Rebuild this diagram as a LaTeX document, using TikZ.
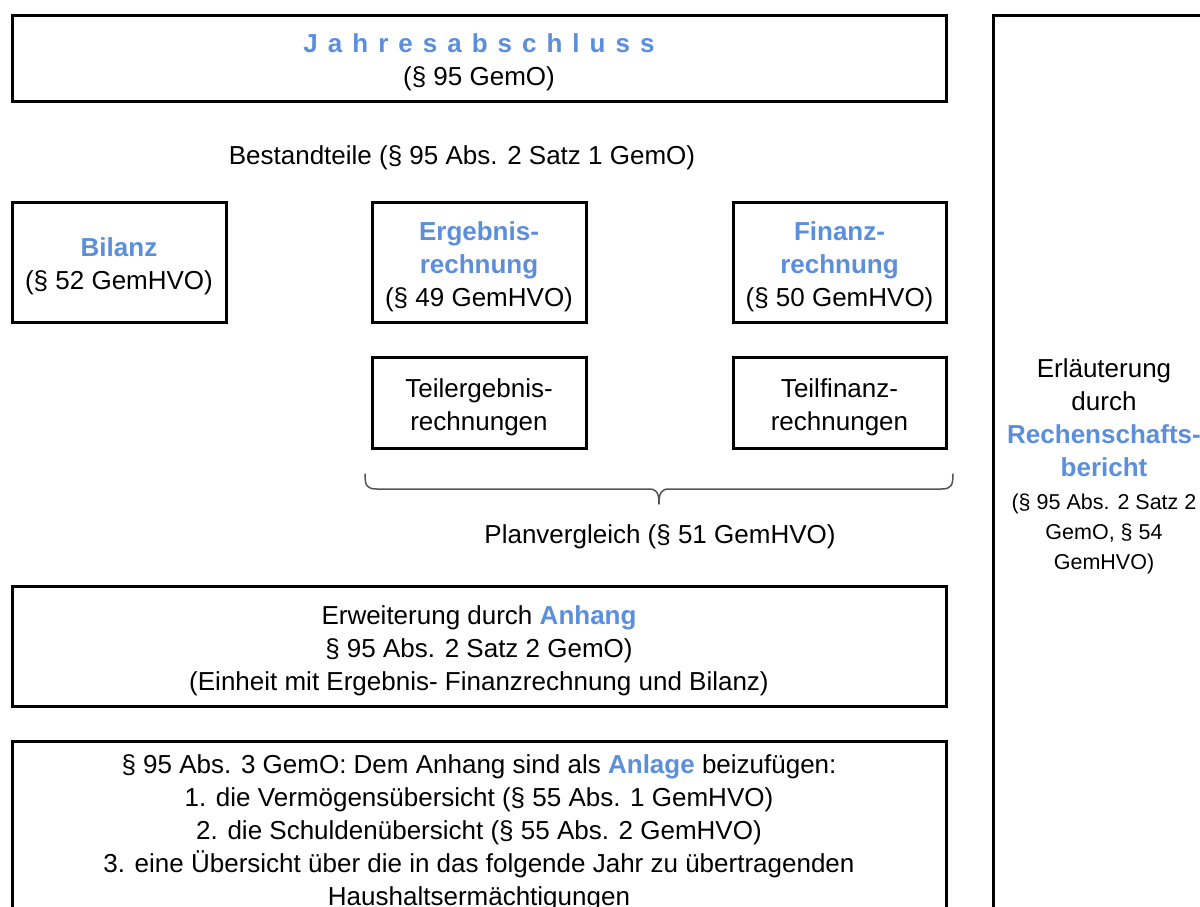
\documentclass[tikz,border=0pt]{standalone}
\usepackage{fontspec}
\setmainfont{Liberation Sans}
\definecolor{hblue}{RGB}{91,143,220}
\definecolor{bracegray}{RGB}{85,85,85}
\newcommand{\hb}[1]{\textcolor{hblue}{\textbf{#1}}}
\newcommand{\smf}{\fontsize{21.5}{30.5}\selectfont}
\newcommand{\tst}{\rule{0pt}{28pt}}
\begin{document}
\begin{tikzpicture}[x=1pt,y=-1pt,
  box/.style={draw, line width=3pt, inner sep=0pt, align=center,
    font=\fontsize{26}{33}\selectfont},
  plain/.style={inner sep=0pt, align=center, font=\fontsize{26}{33}\selectfont}]
\useasboundingbox (0,0) rectangle (1200,906);
\clip (0,0) rectangle (1200,906);
\fill[white] (0,0) rectangle (1200,906);

\node[box, minimum width=934pt, minimum height=86pt] (jahr) at (479,58)
  {\tst\hb{J\kern10pt a\kern10pt h\kern10pt r\kern10pt e\kern10pt s\kern10pt a\kern10pt b\kern10pt s\kern10pt c\kern10pt h\kern10pt l\kern10pt u\kern10pt s\kern10pt s}\\(§ 95 GemO)};

\node[plain] (best) at (462,158) {Bestandteile (§ 95 Abs. 2 Satz 1 GemO)};

\node[box, minimum width=214pt, minimum height=120pt] (bilanz) at (119,262)
  {\tst\hb{Bilanz}\\(§ 52 GemHVO)};
\node[box, minimum width=214pt, minimum height=120pt] (ergebnis) at (479,262)
  {\tst\hb{Ergebnis-}\\\hb{rechnung}\\(§ 49 GemHVO)};
\node[box, minimum width=213pt, minimum height=120pt] (finanz) at (839.5,262)
  {\tst\hb{Finanz-}\\\hb{rechnung}\\(§ 50 GemHVO)};

\node[box, minimum width=214pt, minimum height=91pt] (teilerg) at (479,402.5)
  {\tst Teilergebnis-\\rechnungen};
\node[box, minimum width=213pt, minimum height=91pt] (teilfin) at (839.5,402.5)
  {\tst Teilfinanz-\\rechnungen};

\coordinate (bl) at (365,474);
\coordinate (br) at (953,474);
\coordinate (btip) at (659,504);
\draw[bracegray, line width=1.5pt, line cap=round, line join=round]
  (bl) .. controls (365,486) and (367,489) .. (377,489) -- (649,489)
  .. controls (656,489) and (659,492) .. (btip)
  .. controls (659,492) and (662,489) .. (669,489) -- (941,489)
  .. controls (951,489) and (953,486) .. (br);
\node[plain] (planv) at (660,537) {Planvergleich (§ 51 GemHVO)};

\node[box, minimum width=934pt, minimum height=120pt] (anhang) at (479,646)
  {\tst Erweiterung durch \hb{Anhang}\\§ 95 Abs. 2 Satz 2 GemO)\\(Einheit mit Ergebnis- Finanzrechnung und Bilanz)};

\node[box, minimum width=934pt, minimum height=174pt] (anlage) at (479,828)
  {\tst§ 95 Abs. 3 GemO: Dem Anhang sind als \hb{Anlage} beizufügen:\\
   1. die Vermögensübersicht (§ 55 Abs. 1 GemHVO)\\
   2. die Schuldenübersicht (§ 55 Abs. 2 GemHVO)\\
   3. eine Übersicht über die in das folgende Jahr zu übertragenden\\
   Haushaltsermächtigungen};

\node[box, minimum width=222pt, minimum height=900pt] (rechen) at (1104,465)
  {\rule{0pt}{21.5pt}Erläuterung\\durch\\\hb{Rechenschafts-}\\\hb{bericht}\\
   \smf(§ 95 Abs. 2 Satz 2\\[-3pt]\smf GemO, § 54\\[-3pt]\smf GemHVO)};
\end{tikzpicture}
\end{document}
